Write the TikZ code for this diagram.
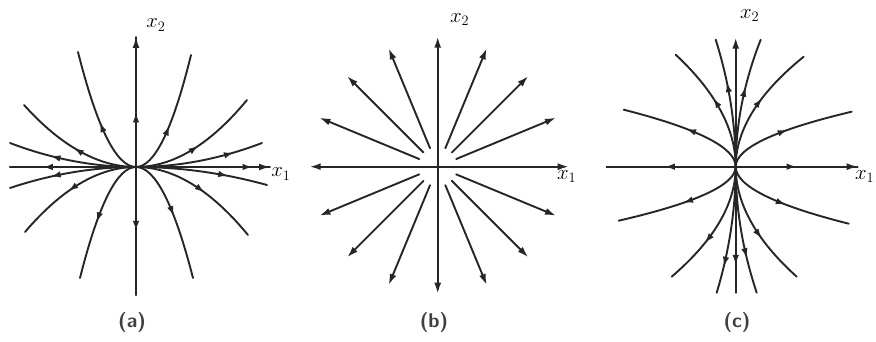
\documentclass[tikz,border=0pt]{standalone}
\usetikzlibrary{arrows.meta,decorations.markings}
\tikzset{
  traj/.style={line width=1.9pt, black!85, line cap=round},
  tip/.style={-{Latex[length=11pt,width=7pt]}},
  tips/.style={{Latex[length=11pt,width=7pt]}-{Latex[length=11pt,width=7pt]}},
  marr/.style={postaction={decorate},decoration={markings,mark=at position #1 with {\arrow{Latex[length=10pt,width=6.5pt]}}}},
  lab/.style={font=\fontsize{20}{20}\selectfont, inner sep=0pt},
  captxt/.style={font=\sffamily\bfseries\fontsize{20}{20}\selectfont, inner sep=0pt, text=black!75}
}
% curve tangent to x1 axis at origin (parabola-like)
\newcommand\pcurve[3]{\draw[traj,marr=#3] (0,0) .. controls ({#1/3},0) and ({2*#1/3},{#2/3}) .. (#1,#2);}
% curve tangent to x2 axis at origin
\newcommand\qcurve[3]{\draw[traj,marr=#3] (0,0) .. controls (0,{#2/3}) and ({#1/3},{2*#2/3}) .. (#1,#2);}
\begin{document}
\begin{tikzpicture}[x=1pt,y=1pt]
\useasboundingbox (0,0) rectangle (876,342);
\fill[white] (0,0) rectangle (876,342);

% ---------- (a) ----------
\begin{scope}[shift={(136,175)}]
  \coordinate (Oa) at (0,0);
  \coordinate (a1w) at (-126,0);
  \coordinate (a1e) at (134,0);
  \coordinate (a2s) at (0,-128);
  \coordinate (a2n) at (0,130);
  \draw[traj,tip] (a1w) -- (a1e);
  \draw[traj,tip] (a2s) -- (a2n);
  \draw[traj,marr=0.42] (Oa) -- (a2n);
  \draw[traj,marr=0.5] (Oa) -- (a2s);
  \draw[traj,marr=0.74] (Oa) -- (a1w);
  \draw[traj,marr=0.87] (Oa) -- (a1e);
  % upper curves
  \pcurve{-58}{115}{0.45}
  \pcurve{55}{112}{0.43}
  \pcurve{-112}{62}{0.5}
  \pcurve{111}{67}{0.5}
  \pcurve{-126}{24}{0.67}
  \pcurve{126}{24}{0.77}
  % lower curves
  \pcurve{-126}{-21}{0.67}
  \pcurve{131}{-18}{0.7}
  \pcurve{-111}{-65}{0.55}
  \pcurve{112}{-68}{0.55}
  \pcurve{-56}{-111}{0.55}
  \pcurve{57}{-111}{0.5}
  \node[lab] (a2lab) at (20,142) {$x_2$};
  \node[lab] (a1lab) at (145,-7) {$x_1$};
\end{scope}
\node[captxt] (capa) at (132,19) {(a)};

% ---------- (b) ----------
\begin{scope}[shift={(437.7,175.3)}]
  \coordinate (Ob) at (0,0);
  \coordinate (b1w) at (-128,0);
  \coordinate (b1e) at (131,0);
  \coordinate (b2s) at (0,-127);
  \coordinate (b2n) at (0,130);
  \draw[traj,tips] (b1w) -- (b1e);
  \draw[traj,tips] (b2s) -- (b2n);
  \foreach \a in {22.5,45,67.5,112.5,135,157.5,202.5,225,247.5,292.5,315,337.5}{
    \draw[traj,tip] (\a:20) -- (\a:128);
  }
  \node[lab] (b2lab) at (22,147) {$x_2$};
  \node[lab] (b1lab) at (129,-10) {$x_1$};
\end{scope}
\node[captxt] (capb) at (434,19) {(b)};

% ---------- (c) ----------
\begin{scope}[shift={(735.7,175.3)}]
  \coordinate (Oc) at (0,0);
  \coordinate (c1w) at (-129,0);
  \coordinate (c1e) at (122,0);
  \coordinate (c2s) at (0,-126);
  \coordinate (c2n) at (0,129);
  \draw[traj,tip] (c1w) -- (c1e);
  \draw[traj,tip] (c2s) -- (c2n);
  \draw[traj,marr=0.55] (Oc) -- (c1w);
  \draw[traj,marr=0.5] (Oc) -- (c1e);
  \draw[traj,marr=0.78] (Oc) -- (c2s);
  % upper curves
  \qcurve{-20}{127}{0.66}
  \qcurve{25}{127}{0.62}
  \qcurve{-60}{112}{0.56}
  \qcurve{68}{110}{0.56}
  \qcurve{-112}{57}{0.5}
  \qcurve{116}{55}{0.5}
  % lower curves
  \qcurve{-117}{-54}{0.5}
  \qcurve{113}{-57}{0.5}
  \qcurve{-64}{-110}{0.64}
  \qcurve{61}{-110}{0.6}
  \qcurve{-19}{-126}{0.79}
  \qcurve{21}{-126}{0.72}
  \node[lab] (c2lab) at (14,151) {$x_2$};
  \node[lab] (c1lab) at (129,-10) {$x_1$};
\end{scope}
\node[captxt] (capc) at (737,19) {(c)};
\end{tikzpicture}
\end{document}
